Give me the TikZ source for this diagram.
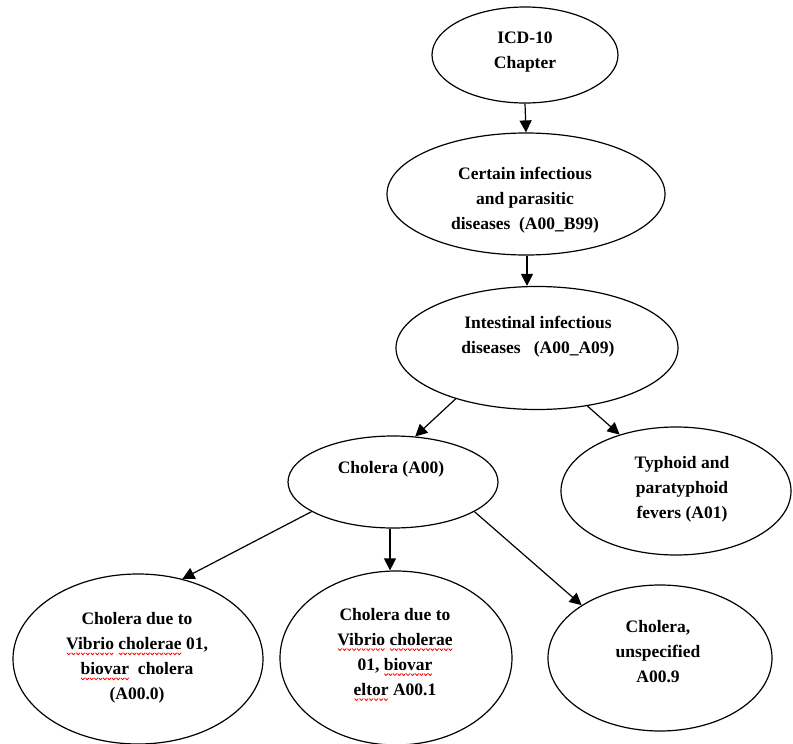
\documentclass[tikz,border=0pt]{standalone}
\usepackage{fontspec}
\setmainfont{Liberation Serif}
\usetikzlibrary{shapes.geometric,arrows.meta}
\newsavebox\wavebox
\newsavebox\wordbox
\newlength\wordwd
\newcommand\redwave[1]{\sbox\wordbox{#1}\setlength\wordwd{\wd\wordbox}\leavevmode\rlap{\usebox\wordbox}\raisebox{-5.5pt}[0pt][0pt]{\hbox to \wordwd{\xleaders\hbox{\usebox\wavebox}\hfill}}}
\tikzset{
  ell/.style={draw, ellipse, line width=1.2pt, inner sep=0pt},
  txt/.style={align=center, inner sep=0pt, font=\bfseries\fontsize{17.5}{25}\selectfont},
  arr/.style={line width=1.2pt, -{Triangle[width=12pt,length=12pt]}}
}
\begin{document}
\sbox\wavebox{\pgfpicture\pgfsetlinewidth{0.8pt}\pgfsetstrokecolor{red}\pgfsetroundjoin
\pgfpathmoveto{\pgfpoint{0pt}{2pt}}\pgfpathlineto{\pgfpoint{1.8pt}{0pt}}\pgfpathlineto{\pgfpoint{3.6pt}{2pt}}\pgfusepath{stroke}\endpgfpicture}%
\begin{tikzpicture}[x=1pt,y=-1pt]
\useasboundingbox (0,0) rectangle (793,744);
% ellipses
\node[ell, minimum width=186pt, minimum height=96pt] (icd) at (525,55) {};
\node[ell, minimum width=278pt, minimum height=122pt] (cert) at (526,194) {};
\node[ell, minimum width=282pt, minimum height=123pt] (intest) at (537,348) {};
\node[ell, minimum width=210pt, minimum height=92pt] (chol) at (393,482) {};
\node[ell, minimum width=230pt, minimum height=128pt] (typh) at (676,491) {};
\node[ell, minimum width=250pt, minimum height=170pt] (c0) at (138,659) {};
\node[ell, minimum width=232pt, minimum height=174pt] (c1) at (396,658) {};
\node[ell, minimum width=224pt, minimum height=146pt] (c9) at (660,658) {};
% texts
\node[txt] (ticd) at (525,52) {ICD-10\\Chapter};
\node[txt] (tcert) at (525,200) {Certain infectious\\and parasitic\\diseases\ \ (A00\_B99)};
\node[txt] (tint) at (538,337) {Intestinal infectious\\diseases\ \ \ (A00\_A09)};
\node[txt] (tchol) at (391,469) {Cholera (A00)};
\node[txt] (ttyph) at (682,489) {Typhoid and\\paratyphoid\\fevers (A01)};
\node[txt] (tc0) at (137,658) {Cholera due to\\\redwave{Vibrio} \redwave{cholerae} 01,\\\redwave{biovar}\ \ cholera\\(A00.0)};
\node[txt] (tc1) at (395,652) {Cholera due to\\\redwave{Vibrio} \redwave{cholerae}\\01, \redwave{biovar}\\\redwave{eltor} A00.1};
\node[txt] (tc9) at (658,652) {Cholera,\\unspecified\\A00.9};
% connectors
\draw[arr] (icd.south) -- (cert.north);
\draw[arr] (cert.south -| 527,0) -- (intest.north -| 527,0);
\draw[arr] (intest.212.7) -- (chol.64);
\draw[arr] (intest.311) -- (typh.135.5);
\draw[arr] (chol.200.5) -- (c0.61);
\draw[arr] (chol.south -| 390,0) -- (c1.north -| 390,0);
\draw[arr] (chol.340) -- (c9.146.8);
\end{tikzpicture}
\end{document}
